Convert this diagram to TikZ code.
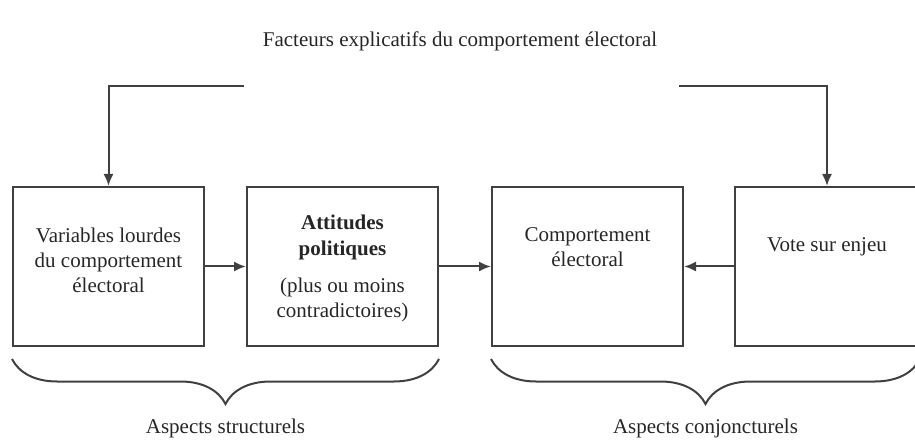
\documentclass[tikz,border=0pt]{standalone}
\usepackage{fontspec}
\setmainfont{Liberation Serif}
\usetikzlibrary{arrows.meta,positioning,decorations.pathreplacing}

\begin{document}
\begin{tikzpicture}[->,>={Latex[length=12pt,width=10pt]},x=1pt,y=1pt,line width=2pt,draw=black!75,text=black!85,font=\fontsize{21}{25}\selectfont]
  \tikzstyle{boite}=[draw,rectangle,minimum width=191pt,minimum height=159pt,inner sep=0pt]
  \tikzstyle{texte}=[align=center,inner sep=0pt]
  \tikzstyle{accolade}=[-,decorate,decoration={brace,mirror,amplitude=45pt}]

  \useasboundingbox (0,0) rectangle (915,439);

  \node[texte] (titre) at (460,398) {Facteurs explicatifs du comportement électoral};
  \coordinate (dg) at (244,353);
  \coordinate (dd) at (679,353);

  \node[boite]                   (b1) at (108.5,172.5) {};
  \node[boite]                   (b2) [right=41pt of b1] {};
  \node[boite]                   (b3) [right=52pt of b2] {};
  \node[boite,minimum width=184pt] (b4) [right=50pt of b3] {};

  \node[texte] (t1) at ([yshift=6.5pt]b1.center) {Variables lourdes\\du comportement\\électoral};
  \node[texte] (t2) at ([yshift=-1.5pt]b2.center) {\textbf{Attitudes}\\[1pt]\textbf{politiques}\\[12pt](plus ou moins\\contradictoires)};
  \node[texte] (t3) at ([yshift=19pt]b3.center) {Comportement\\électoral};
  \node[texte] (t4) at ([yshift=19.5pt]b4.center) {Vote sur enjeu};

  \draw (dg) -| (b1.north);
  \draw (dd) -| (b4.north);
  \draw (b1.east) -- (b2.west);
  \draw (b2.east) -- (b3.west);
  \draw (b4.west) -- (b3.east);

  \draw[accolade] ([yshift=-12pt]b1.south west) -- ([yshift=-12pt]b2.south east)
    node[texte,midway,yshift=-69pt] (as) {Aspects structurels};
  \draw[accolade] ([yshift=-12pt]b3.south west) -- ([yshift=-12pt]b4.south east)
    node[texte,midway,yshift=-69pt] (ac) {Aspects conjoncturels};
\end{tikzpicture}
\end{document}
